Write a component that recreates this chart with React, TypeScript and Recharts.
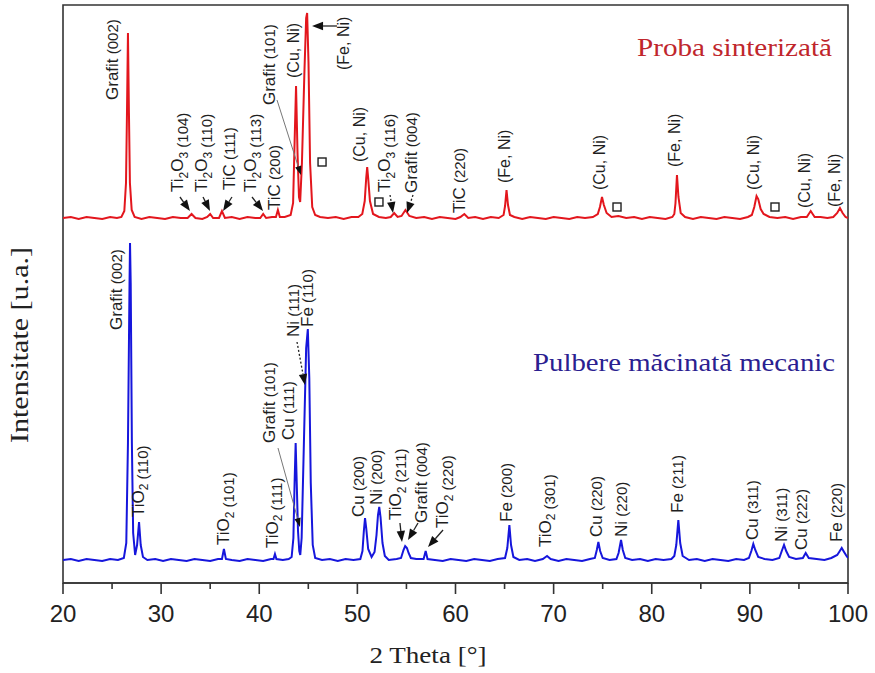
import React from "react";
import {
  LineChart,
  Line,
  XAxis,
  YAxis,
  ReferenceDot,
  ReferenceLine,
  ReferenceArea,
  Label,
} from "recharts";

const RED = "#e3161d";
const BLUE = "#1616dc";
const INK = "#1f1f1f";

// 2θ [°], intensitate [u.a.] (curba sinterizata e decalata in sus)
const sintered: [number, number][] = [
  [20, 365], [20.8, 366], [21.6, 364], [22.4, 366], [23.2, 365], [24, 364], [24.8, 366], [25.5, 365],
  [25.95, 366], [26.25, 372], [26.42, 400], [26.52, 470], [26.62, 550], [26.72, 470], [26.82, 400],
  [27, 373], [27.3, 366], [28, 364], [28.8, 366], [29.6, 365], [30.4, 364], [31.2, 366], [32, 365],
  [32.7, 365], [33.1, 369], [33.5, 365], [34.2, 364], [34.7, 366], [35.0, 369], [35.3, 365],
  [35.9, 365], [36.2, 372], [36.5, 365], [37.2, 366], [38, 364], [38.8, 366], [39.6, 365],
  [40.1, 365], [40.4, 369], [40.7, 365], [41.3, 366], [41.7, 366], [41.9, 373], [42.1, 366],
  [42.6, 366], [43.2, 368], [43.45, 380], [43.6, 440], [43.75, 497], [43.9, 430], [44.05, 386],
  [44.17, 381], [44.35, 420], [44.6, 510], [44.78, 565], [44.88, 570], [45.02, 520], [45.18, 420],
  [45.4, 376], [45.7, 368], [46.2, 366], [47, 365], [47.8, 366], [48.6, 364], [49.4, 366],
  [50.1, 366], [50.5, 369], [50.75, 382], [50.9, 405], [51.0, 416], [51.1, 405], [51.28, 382],
  [51.6, 369], [52.2, 366], [52.9, 365], [53.4, 366], [53.75, 370], [54.1, 366], [54.5, 367],
  [54.9, 373], [55.3, 367], [56, 365], [56.8, 366], [57.6, 364], [58.4, 366], [59.2, 365],
  [60, 364], [60.5, 366], [60.9, 369], [61.3, 365], [62, 366], [62.8, 364], [63.6, 366],
  [64.4, 365], [64.9, 368], [65.05, 377], [65.2, 393], [65.35, 378], [65.55, 368], [66, 366],
  [66.8, 364], [67.6, 366], [68.4, 365], [69.2, 364], [70, 366], [70.8, 365], [71.6, 364],
  [72.4, 366], [73.2, 365], [74, 366], [74.5, 369], [74.72, 376], [74.93, 386], [75.12, 378],
  [75.4, 370], [75.9, 366], [76.6, 367], [77.4, 365], [78.2, 366], [79, 364], [79.8, 366],
  [80.6, 365], [81.4, 364], [82.1, 366], [82.3, 369], [82.42, 380], [82.57, 408], [82.72, 386],
  [82.95, 370], [83.4, 366], [84.2, 364], [85, 366], [85.8, 365], [86.6, 364], [87.4, 366],
  [88.2, 365], [89, 364], [89.8, 366], [90.2, 368], [90.45, 376], [90.68, 387], [90.85, 384],
  [91.1, 374], [91.4, 369], [92, 366], [92.8, 365], [93.6, 366], [94.4, 364], [95.2, 366],
  [95.8, 366], [96.2, 372], [96.6, 366], [97.2, 366], [97.9, 365], [98.5, 366], [98.9, 370],
  [99.18, 375], [99.45, 370], [99.75, 366], [100, 365],
];

const milled: [number, number][] = [
  [20, 23], [20.8, 24], [21.6, 22], [22.4, 24], [23.2, 23], [24, 22], [24.8, 24], [25.6, 23],
  [26.2, 25], [26.45, 40], [26.62, 140], [26.78, 300], [26.83, 340], [26.9, 300], [27.02, 140],
  [27.15, 50], [27.35, 28], [27.55, 38], [27.75, 61], [27.92, 38], [28.15, 26], [28.6, 23],
  [29.4, 24], [30.2, 22], [31, 24], [31.8, 23], [32.6, 22], [33.4, 24], [34.2, 23], [35, 22],
  [35.8, 24], [36.2, 24], [36.4, 34], [36.6, 24], [37.2, 23], [38, 22], [38.8, 24], [39.6, 23],
  [40.4, 22], [41.2, 24], [41.45, 24], [41.6, 29], [41.75, 24], [42.4, 23], [43, 24], [43.3, 26],
  [43.48, 45], [43.6, 100], [43.71, 140], [43.82, 100], [43.95, 52], [44.08, 32], [44.18, 28],
  [44.32, 45], [44.55, 140], [44.78, 235], [44.95, 254], [45.1, 205], [45.25, 100], [45.45, 38],
  [45.7, 25], [46.4, 23], [47.2, 24], [48, 22], [48.8, 24], [49.6, 23], [50.3, 24], [50.52, 32],
  [50.66, 52], [50.78, 65], [50.9, 55], [51.1, 34], [51.45, 26], [51.75, 31], [51.95, 48],
  [52.1, 68], [52.23, 76], [52.36, 66], [52.56, 40], [52.8, 27], [53.2, 23], [54, 24], [54.45, 25],
  [54.7, 33], [54.87, 37], [55.05, 35], [55.22, 30], [55.45, 25], [56, 24], [56.75, 24],
  [56.96, 32], [57.15, 24], [57.9, 23], [58.7, 22], [59.5, 24], [60.3, 23], [61.1, 22], [61.9, 24],
  [62.7, 23], [63.5, 22], [64.3, 24], [65.05, 25], [65.28, 35], [65.49, 58], [65.66, 38],
  [65.9, 26], [66.5, 23], [67.3, 24], [68.1, 22], [68.9, 24], [69.33, 27], [69.7, 24], [70.5, 22],
  [71.3, 24], [72.1, 23], [72.9, 22], [73.7, 24], [74.2, 25], [74.4, 33], [74.56, 41], [74.74, 32],
  [75, 25], [75.7, 23], [76.4, 24], [76.62, 30], [76.87, 43], [77.05, 33], [77.3, 25], [78, 23],
  [78.8, 24], [79.6, 22], [80.4, 24], [81.2, 23], [82, 24], [82.3, 27], [82.5, 38], [82.71, 63],
  [82.9, 40], [83.15, 27], [83.8, 23], [84.6, 24], [85.4, 22], [86.2, 24], [87, 23], [87.8, 22],
  [88.6, 24], [89.4, 23], [89.9, 25], [90.15, 32], [90.35, 39], [90.55, 33], [90.85, 26],
  [91.5, 24], [92.3, 23], [93, 25], [93.25, 32], [93.48, 38], [93.7, 32], [94, 26], [94.7, 24],
  [95.4, 25], [95.69, 30], [96, 25], [96.8, 24], [97.6, 23], [98.3, 25], [98.9, 28], [99.1, 31],
  [99.36, 35], [99.6, 31], [99.85, 27], [100, 25],
];

const xTicks = [20, 25, 30, 35, 40, 45, 50, 55, 60, 65, 70, 75, 80, 85, 90, 95, 100];

// etichete rotite; "_2" = indice
type Ann = { x: number; y: number; text: string };

const sinteredLabels: Ann[] = [
  { x: 25.61, y: 483, text: "Grafit (002)" },
  { x: 32.23, y: 391, text: "Ti_2O_3 (104)" },
  { x: 34.68, y: 391, text: "Ti_2O_3 (110)" },
  { x: 37.53, y: 393, text: "TiC (111)" },
  { x: 39.67, y: 391, text: "Ti_2O_3 (113)" },
  { x: 42.11, y: 373, text: "TiC (200)" },
  { x: 41.6, y: 478, text: "Grafit (101)" },
  { x: 44.05, y: 505, text: "(Cu, Ni)" },
  { x: 49.15, y: 513, text: "(Fe, Ni)" },
  { x: 50.78, y: 421, text: "(Cu, Ni)" },
  { x: 53.33, y: 391, text: "Ti_2O_3 (116)" },
  { x: 56.08, y: 390, text: "Grafit (004)" },
  { x: 60.97, y: 370, text: "TiC (220)" },
  { x: 65.55, y: 400, text: "(Fe, Ni)" },
  { x: 75.24, y: 393, text: "(Cu, Ni)" },
  { x: 82.88, y: 416, text: "(Fe, Ni)" },
  { x: 90.93, y: 393, text: "(Cu, Ni)" },
  { x: 96.13, y: 375, text: "(Cu, Ni)" },
  { x: 99.18, y: 376, text: "(Fe, Ni)" },
];

const milledLabels: Ann[] = [
  { x: 26.01, y: 253, text: "Grafit (002)" },
  { x: 28.25, y: 66, text: "TiO_2 (110)" },
  { x: 36.92, y: 38, text: "TiO_2 (101)" },
  { x: 41.91, y: 35, text: "TiO_2 (111)" },
  { x: 41.6, y: 140, text: "Grafit (101)" },
  { x: 43.54, y: 143, text: "Cu (111)" },
  { x: 44.05, y: 246, text: "Ni (111)" },
  { x: 45.48, y: 256, text: "Fe (110)" },
  { x: 50.68, y: 66, text: "Cu (200)" },
  { x: 52.51, y: 78, text: "Ni (200)" },
  { x: 54.45, y: 63, text: "TiO_2 (211)" },
  { x: 57.1, y: 60, text: "Grafit (004)" },
  { x: 59.24, y: 55, text: "TiO_2 (220)" },
  { x: 65.76, y: 61, text: "Fe (200)" },
  { x: 69.73, y: 36, text: "TiO_2 (301)" },
  { x: 74.93, y: 46, text: "Cu (220)" },
  { x: 77.48, y: 46, text: "Ni (220)" },
  { x: 83.18, y: 70, text: "Fe (211)" },
  { x: 90.83, y: 43, text: "Cu (311)" },
  { x: 93.78, y: 41, text: "Ni (311)" },
  { x: 95.82, y: 33, text: "Cu (222)" },
  { x: 99.39, y: 41, text: "Fe (220)" },
];

type Arrow = { from: [number, number]; to: [number, number]; kind?: "thin" | "dash" };

const arrows: Arrow[] = [
  { from: [31.92, 386], to: [32.94, 372] },
  { from: [34.27, 386], to: [34.98, 372] },
  { from: [37.22, 386], to: [36.31, 372] },
  { from: [39.26, 386], to: [40.38, 372] },
  { from: [41.81, 483], to: [44.25, 408], kind: "thin" },
  { from: [47.92, 557], to: [45.38, 557] },
  { from: [53.33, 388], to: [53.63, 370], kind: "dash" },
  { from: [55.67, 388], to: [55.06, 370], kind: "dash" },
  { from: [41.91, 135], to: [44.15, 56], kind: "thin" },
  { from: [43.85, 241], to: [44.66, 198], kind: "dash" },
  { from: [54.34, 60], to: [54.55, 41] },
  { from: [56.18, 60], to: [55.16, 43] },
  { from: [58.73, 53], to: [57.2, 36] },
];

// faza necunoscuta (patrate)
const squares: [number, number][] = [
  [46.4, 421],
  [52.2, 381],
  [76.46, 376],
  [92.56, 376],
];

const sinteredData = sintered.map(([t, i]) => ({ t, i }));
const milledData = milled.map(([t, i]) => ({ t, i }));

const SANS = "'Liberation Sans', Arial, sans-serif";
const SERIF = "'Liberation Serif', 'Times New Roman', serif";

function renderParts(s: string) {
  // "Ti_2O_3" -> tspans cu indice
  const out: React.ReactNode[] = [];
  const bits = s.split(/(_\d)/).filter((b) => b !== "");
  let shifted = false;
  bits.forEach((b, k) => {
    if (b.startsWith("_")) {
      out.push(
        <tspan key={k} dy={shifted ? 0 : 4.5} fontSize={12}>
          {b.slice(1)}
        </tspan>
      );
      shifted = true;
    } else {
      out.push(
        <tspan key={k} dy={shifted ? -4.5 : 0}>
          {b}
        </tspan>
      );
      shifted = false;
    }
  });
  if (shifted) out.push(<tspan key="e" dy={-4.5} />);
  return out;
}

const labelShape = (text: string) => (p: any) => {
  const { cx, cy } = p;
  const paren = text.startsWith("(");
  const k = paren ? -1 : text.indexOf(" (");
  const name = k < 0 ? text : text.slice(0, k);
  const idx = k < 0 ? "" : text.slice(k);
  return (
    <text
      x={cx}
      y={cy}
      transform={`rotate(-90 ${cx} ${cy})`}
      fontFamily={SANS}
      fontSize={paren ? 16 : 17}
      fill={INK}
    >
      {renderParts(name)}
      {idx && <tspan fontSize={15}>{idx}</tspan>}
    </text>
  );
};

const arrowShape = (kind?: "thin" | "dash") => (p: any) => {
  const x1 = Number(p.x1), y1 = Number(p.y1), x2 = Number(p.x2), y2 = Number(p.y2);
  const len = Math.hypot(x2 - x1, y2 - y1) || 1;
  const ux = (x2 - x1) / len, uy = (y2 - y1) / len;
  const hl = kind === "thin" ? 9 : 11;
  const hw = kind === "thin" ? 3.2 : 4.2;
  const bx = x2 - ux * hl, by = y2 - uy * hl;
  return (
    <g>
      <line
        x1={x1}
        y1={y1}
        x2={bx}
        y2={by}
        stroke={kind === "thin" ? "#777" : "#222"}
        strokeWidth={kind === "thin" ? 1 : 1.3}
        strokeDasharray={kind === "dash" ? "2 2" : undefined}
      />
      <polygon
        points={`${x2},${y2} ${bx - uy * hw},${by + ux * hw} ${bx + uy * hw},${by - ux * hw}`}
        fill="#111"
      />
    </g>
  );
};

const squareShape = (p: any) => (
  <rect x={p.cx - 4} y={p.cy - 4} width={8} height={8} fill="none" stroke={INK} strokeWidth={1.4} />
);

const titleShape = (text: string, color: string, width: number) => (p: any) => (
  <text
    x={p.cx}
    y={p.cy}
    textAnchor="end"
    fontFamily={SERIF}
    fontSize={26}
    fill={color}
    textLength={width}
    lengthAdjust="spacingAndGlyphs"
  >
    {text}
  </text>
);

const XTick = ({ x, y, payload }: any) => {
  const major = payload.value % 10 === 0;
  return (
    <g>
      <line x1={x} x2={x} y1={y} y2={y + (major ? 11 : 6)} stroke="#333" strokeWidth={1.6} />
      {major && (
        <text x={x} y={y + 39} textAnchor="middle" fontFamily={SANS} fontSize={24} fill="#222">
          {payload.value}
        </text>
      )}
    </g>
  );
};

export default function App() {
  return (
    <div style={{ position: "absolute", left: 0, top: 0, background: "#fff" }}>
      <LineChart width={875} height={673} margin={{ top: 5, right: 27, left: 0, bottom: 0 }}>
        <XAxis
          type="number"
          dataKey="t"
          domain={[20, 100]}
          allowDataOverflow
          ticks={xTicks}
          interval={0}
          height={90}
          tick={<XTick />}
          tickLine={false}
          tickSize={0}
          tickMargin={0}
          axisLine={{ stroke: "#333", strokeWidth: 1.6 }}
        >
          <Label
            content={() => (
              <text
                x={428}
                y={663}
                textAnchor="middle"
                fontFamily={SERIF}
                fontSize={24}
                fill="#222"
                textLength={117}
                lengthAdjust="spacingAndGlyphs"
              >
                2 Theta [°]
              </text>
            )}
          />
        </XAxis>
        <YAxis
          type="number"
          domain={[0, 578]}
          allowDataOverflow
          width={63}
          tick={false}
          tickLine={false}
          axisLine={false}
        >
          <Label
            content={() => (
              <text
                x={28}
                y={345}
                transform="rotate(-90 28 345)"
                textAnchor="middle"
                fontFamily={SERIF}
                fontSize={25}
                fill="#222"
                textLength={196}
                lengthAdjust="spacingAndGlyphs"
              >
                Intensitate [u.a.]
              </text>
            )}
          />
        </YAxis>
        <ReferenceArea
          x1={20}
          x2={100}
          y1={0}
          y2={578}
          fill="none"
          stroke="#333"
          strokeWidth={1.6}
          ifOverflow="visible"
        />
        <Line
          data={sinteredData}
          dataKey="i"
          type="linear"
          stroke={RED}
          strokeWidth={2}
          dot={false}
          isAnimationActive={false}
        />
        <Line
          data={milledData}
          dataKey="i"
          type="linear"
          stroke={BLUE}
          strokeWidth={2}
          dot={false}
          isAnimationActive={false}
        />
        {[...sinteredLabels, ...milledLabels].map((a, k) => (
          <ReferenceDot key={`l${k}`} x={a.x} y={a.y} r={1} ifOverflow="visible" shape={labelShape(a.text)} />
        ))}
        {arrows.map((a, k) => (
          <ReferenceLine
            key={`a${k}`}
            segment={[
              { x: a.from[0], y: a.from[1] },
              { x: a.to[0], y: a.to[1] },
            ]}
            ifOverflow="visible"
            shape={arrowShape(a.kind)}
          />
        ))}
        {squares.map(([x, y], k) => (
          <ReferenceDot key={`s${k}`} x={x} y={y} r={4} ifOverflow="visible" shape={squareShape} />
        ))}
        <ReferenceDot
          x={98.37}
          y={527}
          r={1}
          ifOverflow="visible"
          shape={titleShape("Proba sinterizată", "#c0262c", 195)}
        />
        <ReferenceDot
          x={98.68}
          y={212}
          r={1}
          ifOverflow="visible"
          shape={titleShape("Pulbere măcinată mecanic", "#2a2090", 302)}
        />
      </LineChart>
    </div>
  );
}
